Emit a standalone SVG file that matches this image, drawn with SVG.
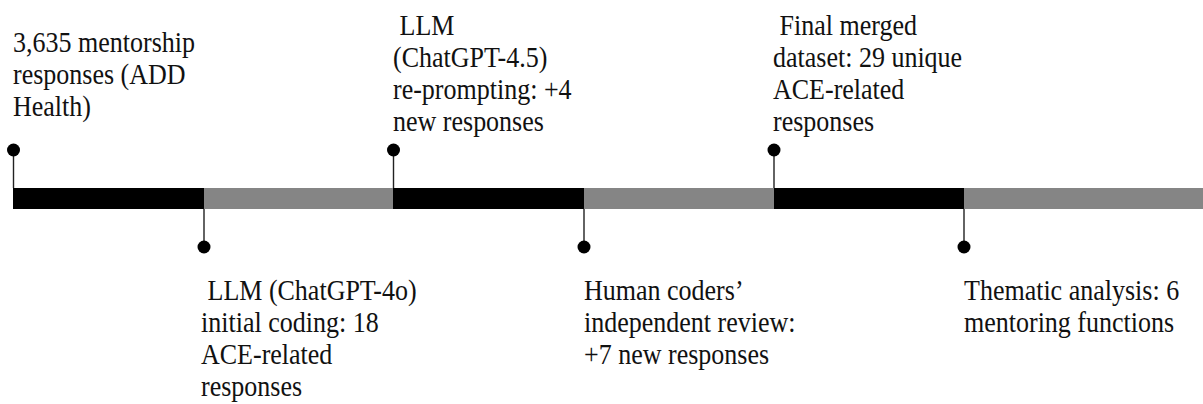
<svg xmlns="http://www.w3.org/2000/svg" width="1203" height="404" viewBox="0 0 1203 404">
<style>
.lbl{font-family:"Liberation Serif","Times New Roman",serif;font-size:30px;fill:#111}
.dot{fill:#000}
.stem{stroke:#222;stroke-width:1.4}
.blk{fill:#000}
.gry{fill:#858585}
</style>
<rect width="1203" height="404" fill="#fff"/>
<g id="bar">
<rect class="blk" x="13" y="188" width="191" height="21"/>
<rect class="gry" x="204" y="188" width="189" height="21"/>
<rect class="blk" x="393" y="188" width="191" height="21"/>
<rect class="gry" x="584" y="188" width="190" height="21"/>
<rect class="blk" x="774" y="188" width="190" height="21"/>
<rect class="gry" x="964" y="188" width="239" height="21"/>
</g>
<g id="connectors">
<line class="stem" x1="13.5" y1="150" x2="13.5" y2="188"/>
<line class="stem" x1="204" y1="209" x2="204" y2="247"/>
<line class="stem" x1="393.5" y1="150" x2="393.5" y2="188"/>
<line class="stem" x1="584" y1="209" x2="584" y2="247"/>
<line class="stem" x1="774" y1="150" x2="774" y2="188"/>
<line class="stem" x1="964" y1="209" x2="964" y2="247"/>
</g>
<g id="event1">
<circle class="dot" cx="13.5" cy="150" r="6.5"/>
<g transform="matrix(0.867 0 0 1 13 0)">
<text class="lbl"><tspan x="0" y="52">3,635 mentorship</tspan><tspan x="0" y="84">responses (ADD</tspan><tspan x="0" y="116">Health)</tspan></text>
</g>
</g>
<g id="event2">
<circle class="dot" cx="204" cy="247" r="6.5"/>
<g transform="matrix(0.867 0 0 1 201 0)">
<text class="lbl" xml:space="preserve"><tspan x="0" y="300"> LLM (ChatGPT-4o)</tspan><tspan x="0" y="332">initial coding: 18</tspan><tspan x="0" y="364">ACE-related</tspan><tspan x="0" y="396">responses</tspan></text>
</g>
</g>
<g id="event3">
<circle class="dot" cx="393.5" cy="150" r="6.5"/>
<g transform="matrix(0.867 0 0 1 393 0)">
<text class="lbl" xml:space="preserve"><tspan x="0" y="35"> LLM</tspan><tspan x="0" y="67">(ChatGPT-4.5)</tspan><tspan x="0" y="99">re-prompting: +4</tspan><tspan x="0" y="131">new responses</tspan></text>
</g>
</g>
<g id="event4">
<circle class="dot" cx="584" cy="247" r="6.5"/>
<g transform="matrix(0.867 0 0 1 584 0)">
<text class="lbl"><tspan x="0" y="300">Human coders’</tspan><tspan x="0" y="332">independent review:</tspan><tspan x="0" y="364">+7 new responses</tspan></text>
</g>
</g>
<g id="event5">
<circle class="dot" cx="774" cy="150" r="6.5"/>
<g transform="matrix(0.867 0 0 1 773 0)">
<text class="lbl" xml:space="preserve"><tspan x="0" y="35"> Final merged</tspan><tspan x="0" y="67">dataset: 29 unique</tspan><tspan x="0" y="99">ACE-related</tspan><tspan x="0" y="131">responses</tspan></text>
</g>
</g>
<g id="event6">
<circle class="dot" cx="964" cy="247" r="6.5"/>
<g transform="matrix(0.867 0 0 1 964 0)">
<text class="lbl"><tspan x="0" y="300">Thematic analysis: 6</tspan><tspan x="0" y="332">mentoring functions</tspan></text>
</g>
</g>
</svg>
